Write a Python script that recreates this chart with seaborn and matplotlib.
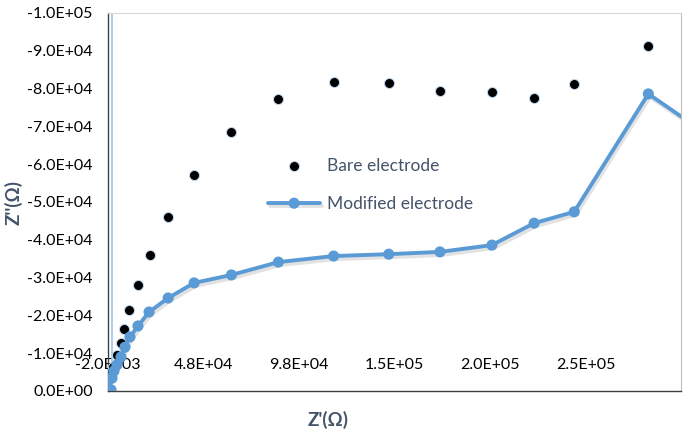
import matplotlib
matplotlib.use("Agg")
import matplotlib.pyplot as plt
import matplotlib.patheffects as pe
from matplotlib.ticker import FormatStrFormatter
import seaborn as sns
import pandas as pd

# Bare electrode (Z', Z'')
bare_x = [-400, 600, 2700, 4800, 6400, 9000, 13700, 20000, 29500, 43100, 62600,
          87200, 116100, 145000, 171800, 199000, 221100, 242100, 280900]
bare_y = [-3400, -6300, -9500, -12700, -16400, -21400, -28000, -36000, -46000,
          -57100, -68500, -77200, -81700, -81500, -79400, -79100, -77500, -81200, -91300]

# Modified electrode (Z', Z'')
mod_x = [-400, -1600, 100, 1150, 2700, 4800, 6900, 9500, 13700, 19500, 29500, 43100,
         62600, 87200, 116100, 145000, 171800, 199000, 221100, 242100, 280900, 320000]
mod_y = [-300, -3200, -3400, -5300, -6900, -9000, -11600, -14300, -17200, -20900,
         -24600, -28600, -30700, -34100, -35700, -36200, -36800, -38600, -44400,
         -47400, -78600, -65000]

x_ticks = [-2000, 48000, 98000, 148000, 198000, 248000]
y_ticks = [0, -10000, -20000, -30000, -40000, -50000, -60000, -70000, -80000, -90000, -100000]

sns.set_style("white")
plt.rcParams['font.family'] = ['Lato', 'DejaVu Sans']

fig = plt.figure(figsize=(6.85, 4.37), dpi=100)
ax = fig.add_axes([108 / 685, (437 - 391) / 437, (681 - 108) / 685, (391 - 13) / 437])

ax.axvline(0, color='#9DC3E6', lw=1.2, zorder=1)

df_mod = pd.DataFrame({'x': mod_x, 'y': mod_y})
df_bare = pd.DataFrame({'x': bare_x, 'y': bare_y})

sns.scatterplot(data=df_bare, x='x', y='y', ax=ax, color='black', s=52,
                edgecolor='#BDD7EE', linewidth=0.7, label='Bare electrode', zorder=3)
sns.lineplot(data=df_mod, x='x', y='y', sort=False, ax=ax, color='#5B9BD5',
             lw=2.8, marker='o', markersize=8, markeredgewidth=0,
             label='Modified electrode', zorder=4,
             path_effects=[pe.SimpleLineShadow(offset=(1.2, -2.2), shadow_color='#7F7F7F', alpha=0.22),
                           pe.Normal()])

ax.set_xlim(-2000, 298000)
ax.set_ylim(0, -100000)
ax.set_xticks(x_ticks)
ax.set_yticks(y_ticks)
ax.xaxis.set_major_formatter(FormatStrFormatter('%.1E'))
ax.yaxis.set_major_formatter(FormatStrFormatter('%.1E'))
ax.tick_params(axis='x', length=0, pad=-24, labelsize=11.5, colors='black')
ax.tick_params(axis='y', length=0, pad=11, labelsize=11.5, colors='black')
ax.set_xlabel('')
ax.set_ylabel('')

for s in ['left', 'bottom']:
    ax.spines[s].set_color('#404040')
    ax.spines[s].set_linewidth(1.0)
ax.spines['right'].set_color('#BFBFBF')
ax.spines['top'].set_color('#D9D9D9')
ax.spines['top'].set_linewidth(0.8)

fig.text(328 / 685, 1 - 420 / 437, "Z'(Ω)", ha='center', va='center',
         fontsize=13.5, fontweight='bold', color='#44546A')
fig.text(14 / 685, 1 - 202 / 437, "Z''(Ω)", ha='center', va='center', rotation=90,
         fontsize=13.5, fontweight='bold', color='#44546A')

handles, labels = ax.get_legend_handles_labels()
order = [labels.index('Bare electrode'), labels.index('Modified electrode')]
leg = ax.legend([handles[i] for i in order], [labels[i] for i in order],
                loc='center left', bbox_to_anchor=(268 / 685, 1 - 185 / 437),
                bbox_transform=fig.transFigure, frameon=False, fontsize=12.5,
                handlelength=3.0, labelspacing=1.3, handletextpad=0.4,
                borderpad=0, borderaxespad=0)
for t in leg.get_texts():
    t.set_color('#44546A')

fig.savefig('out.png', dpi=100)
